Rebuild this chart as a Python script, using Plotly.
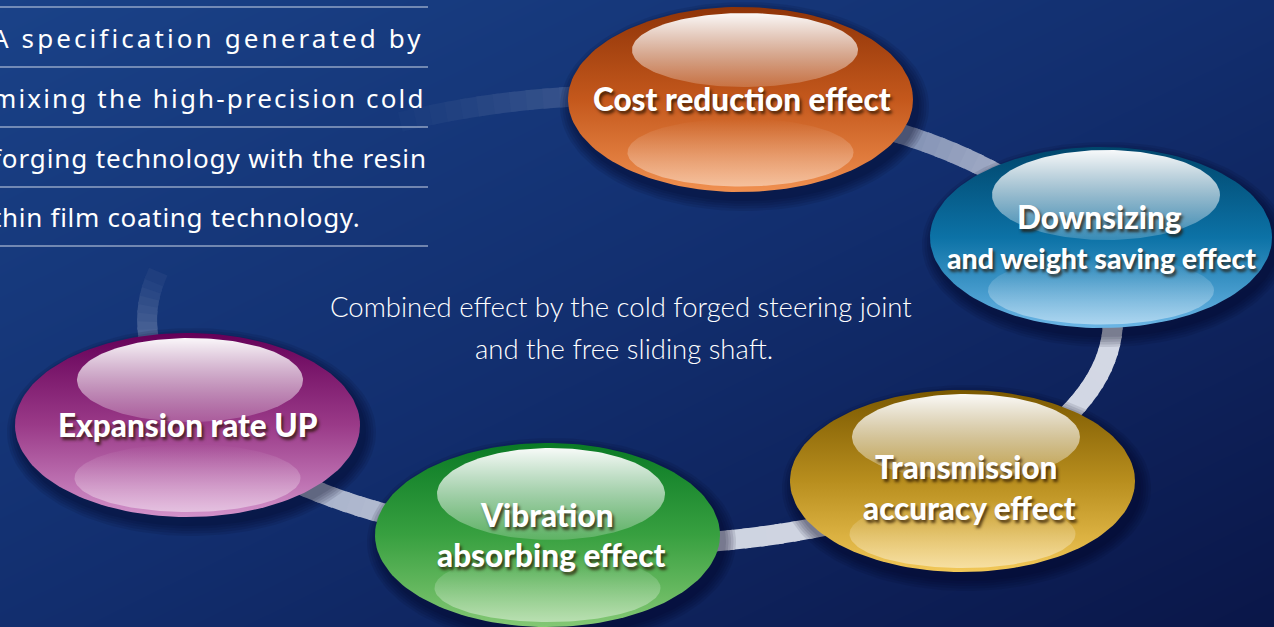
import numpy as np
import plotly.graph_objects as go

W, H = 1274, 627

# ---------------- content ----------------
intro_lines = ["A specification generated by",
               "mixing the high-precision cold",
               "forging technology with the resin",
               "thin film coating technology."]
intro_y = [38, 98, 158, 217]
intro_spacing = [3.1, 2.15, 0.88, 0.7]   # justified lines (px letter-spacing)
rule_y = [7, 67, 127, 187, 246]

center_lines = ["Combined effect by the cold forged steering joint",
                "and the free sliding shaft."]
center_x = [621, 624]
center_y = [306, 348]

effect_names = ["Cost reduction effect",
                "Downsizing and weight saving effect",
                "Transmission accuracy effect",
                "Vibration absorbing effect",
                "Expansion rate UP"]
effect_lines = [["Cost reduction effect"],
                ["Downsizing", "and weight saving effect"],
                ["Transmission", "accuracy effect"],
                ["Vibration", "absorbing effect"],
                ["Expansion rate UP"]]
label_x = [[742], [1099, 1101], [966, 969], [547, 551], [188]]
label_y = [[99], [217, 258], [467, 508], [515, 555], [425]]
label_size = [[31.5], [31.5, 28.5], [31.5, 31.5], [31.5, 31.5], [31.5]]

bubble_cx = [740.5, 1101, 962.5, 547.5, 187.5]
bubble_cy = [99.5, 237.5, 481, 535, 425]
bubble_rx = [172.5, 171, 172.5, 172.5, 172.5]
bubble_ry = [92.5, 90.5, 91, 92, 92]
bubble_top = ["#8f3408", "#00466c", "#7a5800", "#0a7a25", "#650058"]
bubble_mid = ["#c4581c", "#0c72a6", "#b88e1e", "#38a040", "#9a3a88"]
bubble_bot = ["#f09050", "#6cb6e6", "#f2c858", "#84c874", "#d292ca"]

hl_cx = [745, 1106, 966, 551, 190]
hl_cy = [50, 195, 437, 494, 380]
hl_rx = [113, 114, 114, 114, 113]
hl_ry = [37, 45, 43, 46, 42]

# ring (orbit) behind the bubbles
ring_cx, ring_cy, ring_rx, ring_ry = 630, 320, 483, 225
ring_rgb = (222, 226, 236)
ring_angles = [0, 90, 135, 160, 178, 186, 194, 240, 250, 262, 272, 300, 330, 360]
ring_alpha = [0.95, 0.92, 0.72, 0.55, 0.25, 0.12, 0.0, 0.0, 0.06, 0.16, 0.24, 0.5, 0.8, 0.95]

bg_stops = [0, 0.5, 1]
bg_colors = [(26, 66, 136), (18, 46, 110), (10, 22, 72)]


def hexc(c):
    return "#%02x%02x%02x" % tuple(int(round(v)) for v in c)


def bg_at(x, y):
    z = 0.5 * (x / W + y / H)
    return [np.interp(z, bg_stops, [c[k] for c in bg_colors]) for k in range(3)]


def ellipse(cx, cy, rx, ry, n=160):
    t = np.linspace(0, 2 * np.pi, n)
    return cx + rx * np.cos(t), cy + ry * np.sin(t)


fig = go.Figure()

# background gradient
fig.add_trace(go.Heatmap(
    x=[-2, W + 2], y=[-2, H + 2], z=[[0, 0.5], [0.5, 1]],
    colorscale=[[s, hexc(c)] for s, c in zip(bg_stops, bg_colors)],
    zsmooth="best", showscale=False, hoverinfo="skip"))

# ring segments (pre-blended with background so overlaps are invisible)
step = 2
for a0 in range(0, 360, step):
    am = a0 + step / 2
    alpha = float(np.interp(am, ring_angles, ring_alpha))
    if alpha <= 0.015:
        continue
    tt = np.radians(np.linspace(a0 - 0.4, a0 + step + 0.4, 4))
    xs = ring_cx + ring_rx * np.cos(tt)
    ys = ring_cy + ring_ry * np.sin(tt)
    bg = bg_at(xs.mean(), ys.mean())
    col = [alpha * ring_rgb[k] + (1 - alpha) * bg[k] for k in range(3)]
    fig.add_trace(go.Scatter(
        x=xs, y=ys, mode="lines", line=dict(color=hexc(col), width=20),
        hoverinfo="skip"))

# bubbles
for i in range(len(effect_names)):
    cx, cy, rx, ry = bubble_cx[i], bubble_cy[i], bubble_rx[i], bubble_ry[i]
    # soft drop shadow
    for k in range(5):
        ex, ey = ellipse(cx + 4, cy + 7, rx + 2 + 2.5 * k, ry + 2 + 2.5 * k)
        fig.add_trace(go.Scatter(x=ex, y=ey, mode="lines", fill="toself",
                                 fillcolor="rgba(0,4,30,0.10)", line=dict(width=0),
                                 hoverinfo="skip"))
    ex, ey = ellipse(cx, cy, rx, ry)
    fig.add_trace(go.Scatter(
        x=ex, y=ey, mode="lines", fill="toself", line=dict(width=0),
        fillgradient=dict(type="vertical", start=cy - ry, stop=cy + ry,
                          colorscale=[[0, bubble_top[i]], [0.5, bubble_mid[i]],
                                      [1, bubble_bot[i]]]),
        hoverinfo="skip", name=effect_names[i]))
    # bottom glow
    gx, gy = ellipse(cx, cy + 53, 113, 34)
    fig.add_trace(go.Scatter(
        x=gx, y=gy, mode="lines", fill="toself", line=dict(width=0),
        fillgradient=dict(type="vertical", start=cy + 19, stop=cy + 87,
                          colorscale=[[0, "rgba(255,255,255,0)"],
                                      [1, "rgba(255,255,255,0.45)"]]),
        hoverinfo="skip"))
    # top highlight
    hx, hy = ellipse(hl_cx[i], hl_cy[i], hl_rx[i], hl_ry[i])
    fig.add_trace(go.Scatter(
        x=hx, y=hy, mode="lines", fill="toself", line=dict(width=0),
        fillgradient=dict(type="vertical", start=hl_cy[i] - hl_ry[i],
                          stop=hl_cy[i] + hl_ry[i],
                          colorscale=[[0, "rgba(255,255,255,0.97)"],
                                      [1, "rgba(255,255,255,0.18)"]]),
        hoverinfo="skip"))

annotations = []
for i in range(len(effect_names)):
    for j, txt in enumerate(effect_lines[i]):
        annotations.append(dict(
            x=label_x[i][j], y=label_y[i][j], xref="x", yref="y", text=txt,
            showarrow=False, xanchor="center", yanchor="middle",
            font=dict(family="Lato", size=label_size[i][j], color="white", weight=900,
                      shadow="2px 3px 3px rgba(40,20,0,0.75)")))

css_rules = []
for txt, y, ls in zip(intro_lines, intro_y, intro_spacing):
    css_rules.append(f"g.annotation[data-index='{len(annotations)}'] text"
                     f"{{letter-spacing:{ls}px;}}")
    annotations.append(dict(
        x=-10 / W, y=y, xref="paper", yref="y", text=txt, showarrow=False,
        xanchor="left", yanchor="middle", align="left",
        font=dict(family="Noto Sans", size=26, color="white")))

for txt, x, y in zip(center_lines, center_x, center_y):
    annotations.append(dict(
        x=x, y=y, xref="x", yref="y", text=txt, showarrow=False,
        xanchor="center", yanchor="middle",
        font=dict(family="Lato", size=27.5, color="white", weight=300)))

shapes = [dict(type="line", xref="x", yref="y", x0=0, x1=428, y0=y, y1=y,
               line=dict(color="rgba(215,222,238,0.95)", width=1.2))
          for y in rule_y]

fig.update_layout(
    width=W, height=H, margin=dict(l=0, r=0, t=0, b=0),
    paper_bgcolor="#122e6e", plot_bgcolor="#122e6e",
    showlegend=False,
    xaxis=dict(range=[0, W], visible=False, fixedrange=True),
    yaxis=dict(range=[H, 0], visible=False, fixedrange=True),
    annotations=annotations, shapes=shapes)

css = "".join(css_rules)
fig.write_html(
    "out.html", config={"displayModeBar": False},
    post_script=("document.body.style.margin='0';"
                 "var s=document.createElement('style');"
                 f"s.textContent=\"{css}\";"
                 "document.head.appendChild(s);"))
